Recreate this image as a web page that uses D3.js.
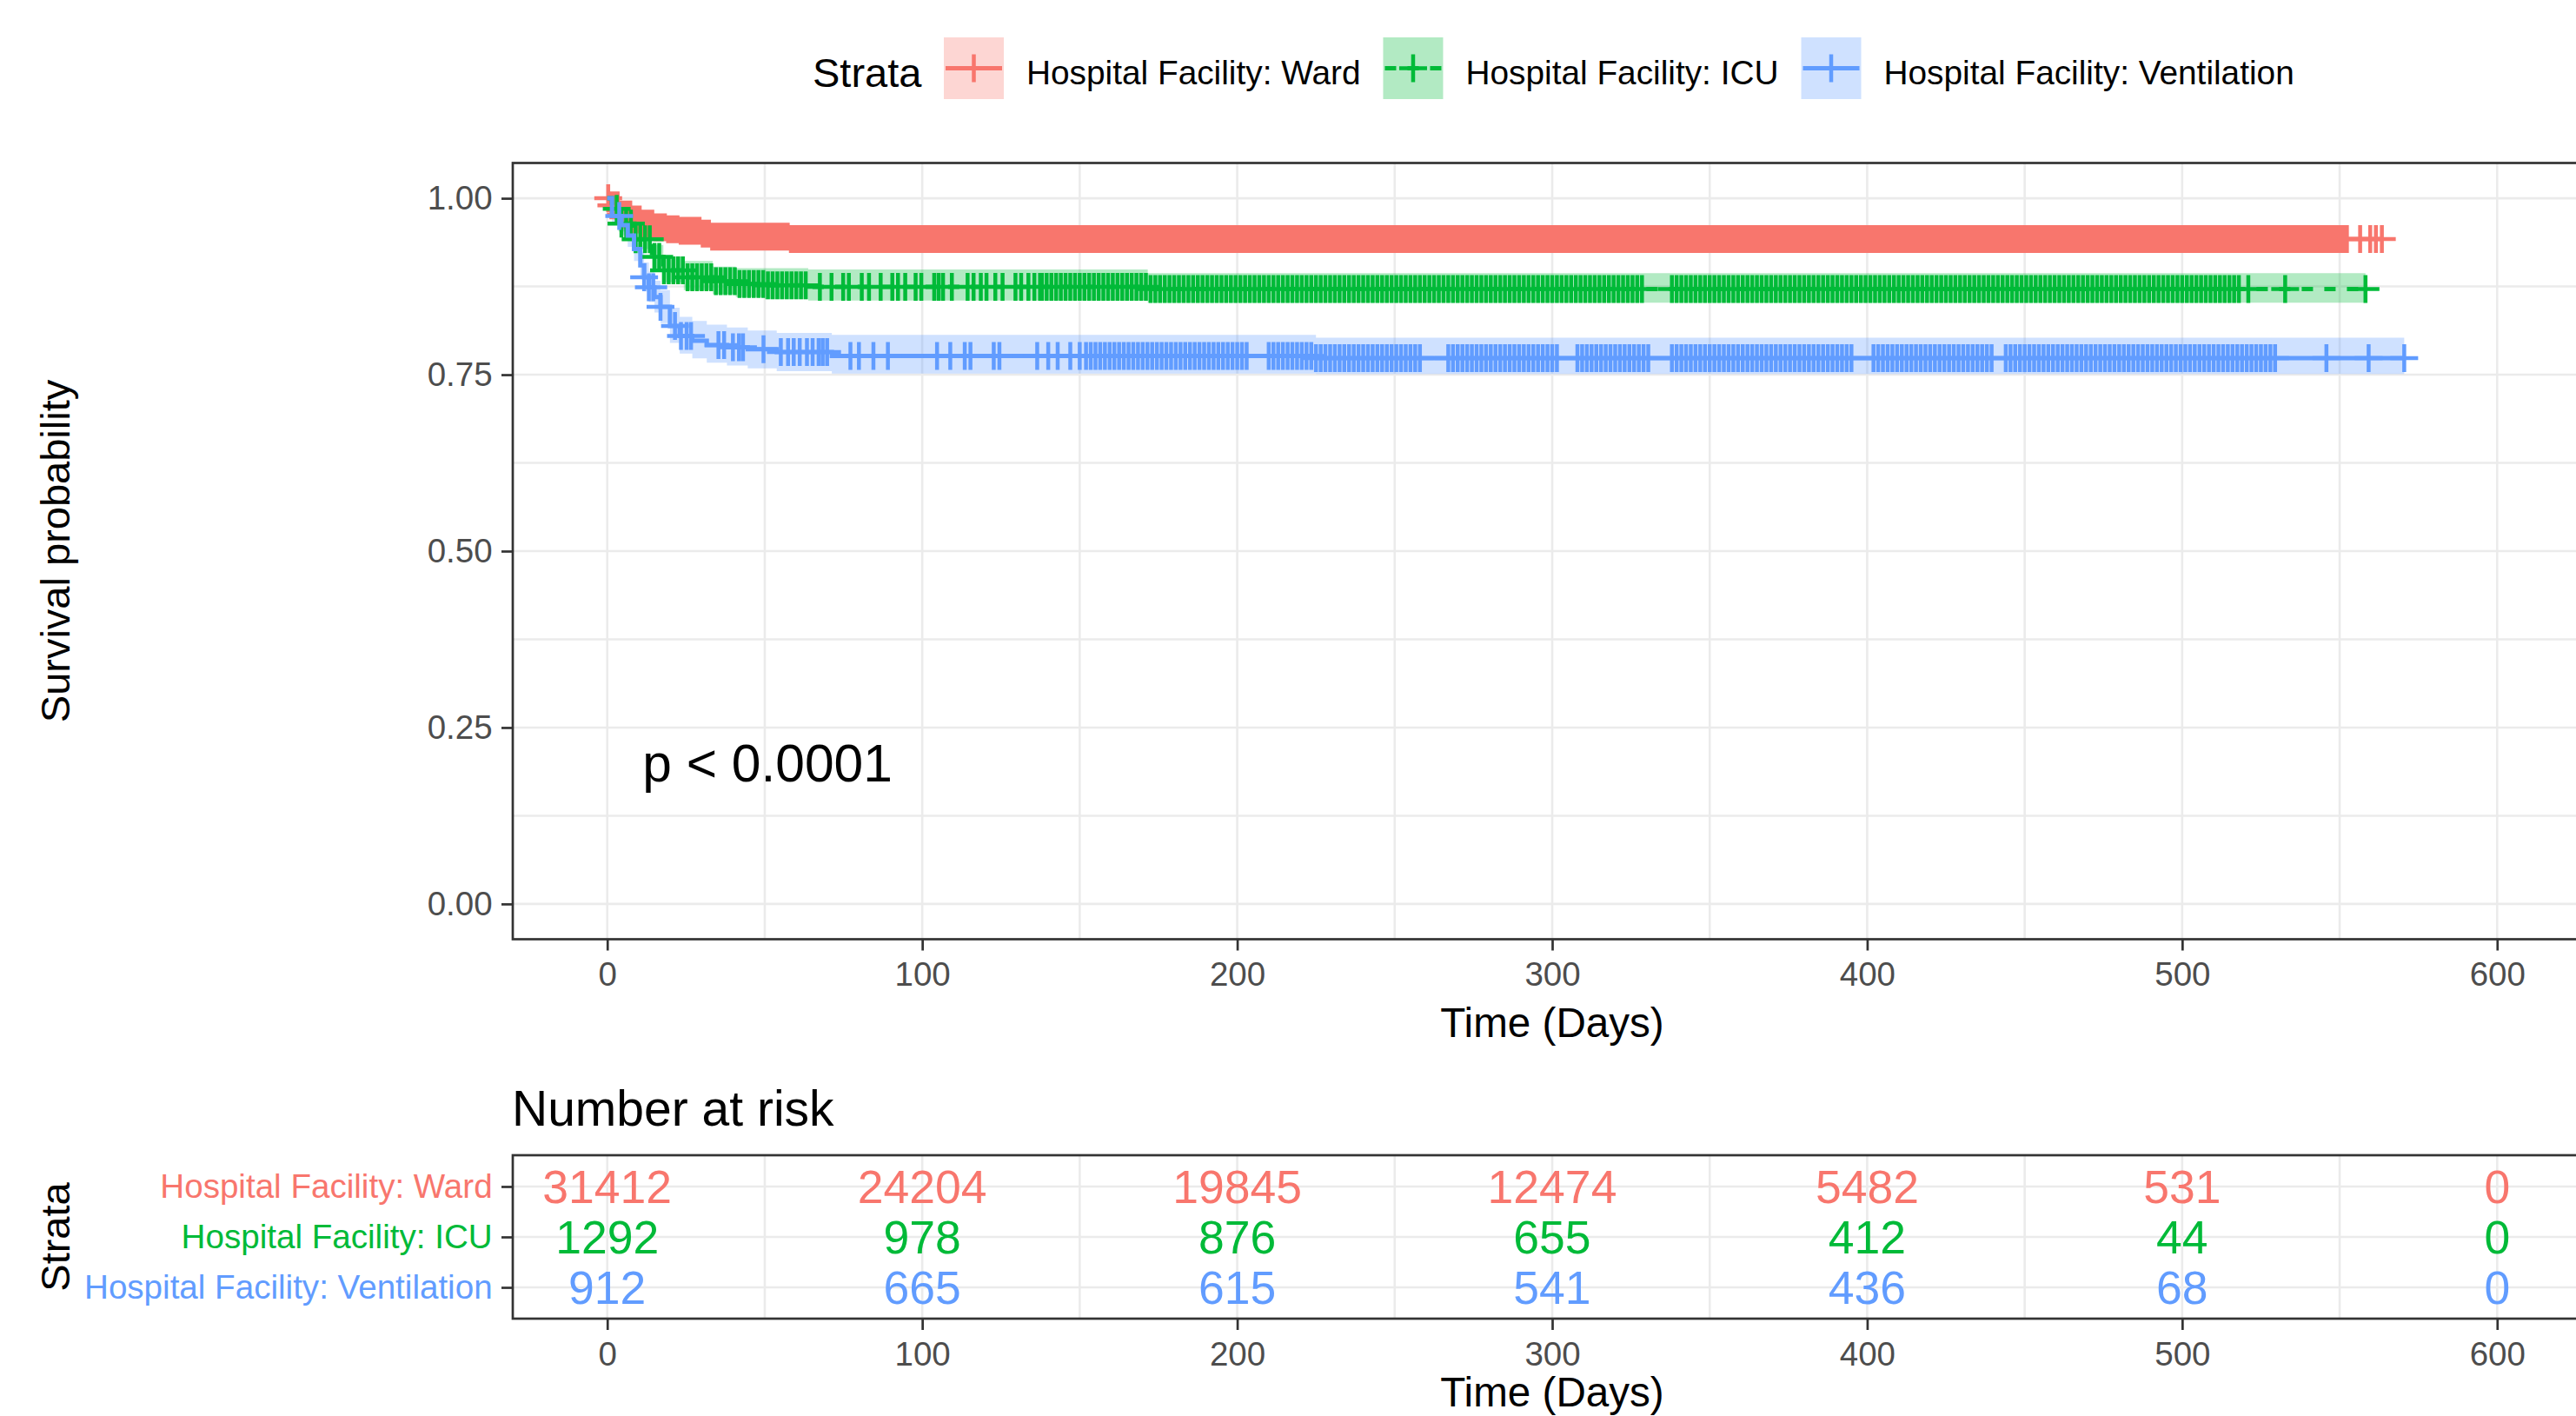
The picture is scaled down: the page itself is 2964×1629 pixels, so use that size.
<!DOCTYPE html>
<html>
<head>
<meta charset="utf-8">
<script src="https://cdn.jsdelivr.net/npm/d3@7"></script>
<style>
body { margin: 0; background: #fff; }
text { font-family: "Liberation Sans", Arial, sans-serif; }
</style>
</head>
<body>
<script>
const strata = ['Hospital Facility: Ward', 'Hospital Facility: ICU', 'Hospital Facility: Ventilation']
const colors = ['#F8766D', '#00BA38', '#619CFF']
const dashes = [null, '13 13', null]

// Kaplan-Meier steps
const wardTime = [0, 1, 3.6, 7.7, 11, 14.6, 18.5, 22.4, 29.8, 33, 58.3]
const wardSurv = [1, 0.99, 0.977, 0.97, 0.964, 0.959, 0.956, 0.954, 0.95, 0.9456, 0.9423]
const wardUpper = [1, 0.993, 0.98, 0.973, 0.967, 0.962, 0.959, 0.957, 0.953, 0.9486, 0.9453]
const wardLower = [1, 0.987, 0.974, 0.967, 0.961, 0.956, 0.953, 0.951, 0.947, 0.9426, 0.9393]
const wardEnd = 563.4

const icuTime = [0, 1.5, 3.6, 8.6, 14.2, 17.8, 24.3, 33.5, 40.8, 50, 63.8, 171.6]
const icuSurv = [1, 0.985, 0.964, 0.942, 0.917, 0.898, 0.888, 0.8826, 0.8785, 0.8765, 0.8745, 0.8715]
const icuUpper = [1, 0.992, 0.975, 0.956, 0.934, 0.9176, 0.911, 0.903, 0.901, 0.901, 0.899, 0.894]
const icuLower = [1, 0.978, 0.953, 0.928, 0.901, 0.881, 0.87, 0.864, 0.86, 0.857, 0.855, 0.852]
const icuEnd = 558.2

const ventTime = [0, 1.5, 4.5, 6.5, 8.5, 10.5, 11.7, 13.2, 15, 16.9, 19.9, 23, 27, 31.6, 38, 44.6, 53.8, 71.3, 225]
const ventSurv = [1, 0.975, 0.962, 0.947, 0.928, 0.905, 0.888, 0.874, 0.86, 0.846, 0.819, 0.805, 0.798, 0.792, 0.789, 0.786, 0.782, 0.7765, 0.7735]
const ventUpper = [1, 0.985, 0.975, 0.962, 0.945, 0.924, 0.909, 0.896, 0.883, 0.87, 0.845, 0.832, 0.826, 0.821, 0.817, 0.8126, 0.8093, 0.8065, 0.8024]
const ventLower = [1, 0.964, 0.948, 0.931, 0.911, 0.886, 0.868, 0.853, 0.838, 0.823, 0.795, 0.78, 0.773, 0.767, 0.763, 0.759, 0.755, 0.7517, 0.7509]
const ventEnd = 570.5

// censoring: spans that are solid with marks (start, end, spacing) plus single marks
const wardCensorRuns = [[0.3, 553, 1]]
const wardCensorSingles = [556.5, 559.7, 561.5, 563.4]
const icuCensorRuns = [[3, 8, 1.5], [9, 64, 1.5], [138, 329, 1.5], [338, 518, 1.5]]
const icuCensorSingles = [67.5, 71.2, 74.9, 76.7, 80.8, 83.1, 86.8, 90.5, 92.3, 94.6, 97.9, 99.7, 103.8, 105.2, 106.6,
  109.4, 114.4, 116.3, 118.6, 120.4, 123.2, 125.5, 129.6, 131.4, 133.7, 135.6, 137.4, 521, 532.7, 558.2]
const ventCensorRuns = [[152, 204, 1.5], [210, 258, 1.5], [267, 302, 1.5], [308, 331, 1.5], [338, 396, 1.5], [402, 440, 1.5], [444, 530, 1.5]]
const ventCensorSingles = [3.8, 11.7, 13.2, 14.6, 16.9, 21.5, 23.4, 25.2, 26.6, 35.3, 37.1, 39.9, 41.8, 43.1, 49.6, 55.1,
  57.4, 59.2, 61.1, 63.4, 65.2, 67.1, 68.4, 69.8, 77.2, 79.9, 84.5, 89.1, 104.7, 108.9, 113.5, 115.3, 122.7, 124.5,
  136.5, 140, 143, 147, 150, 545.8, 559.2, 570.5]

// number at risk
const riskTimes = [0, 100, 200, 300, 400, 500, 600]
const wardRisk = [31412, 24204, 19845, 12474, 5482, 531, 0]
const icuRisk = [1292, 978, 876, 655, 412, 44, 0]
const ventRisk = [912, 665, 615, 541, 436, 68, 0]

const xTicks = [0, 100, 200, 300, 400, 500, 600]
const xMinor = [50, 150, 250, 350, 450, 550]
const yTicks = [0, 0.25, 0.5, 0.75, 1]
const yMinor = [0.125, 0.375, 0.625, 0.875]

const curves = [
  { time: wardTime, surv: wardSurv, upper: wardUpper, lower: wardLower, end: wardEnd, runs: wardCensorRuns, singles: wardCensorSingles, risk: wardRisk },
  { time: icuTime, surv: icuSurv, upper: icuUpper, lower: icuLower, end: icuEnd, runs: icuCensorRuns, singles: icuCensorSingles, risk: icuRisk },
  { time: ventTime, surv: ventSurv, upper: ventUpper, lower: ventLower, end: ventEnd, runs: ventCensorRuns, singles: ventCensorSingles, risk: ventRisk }
]

const width = 2964
const height = 1629
const pLeft = 590, pRight = 2982
const pTop = 187.5, pBottom = 1080.5
const riskTop = 1329, riskBottom = 1517
const grid = '#EBEBEB'
const dark = '#333333'
const tickText = '#4D4D4D'

const svg = d3.select('body').append('svg').attr('width', width).attr('height', height)

const xScale = d3.scaleLinear().domain([-30, 630]).range([pLeft, pRight])
const yScale = d3.scaleLinear().domain([-0.05, 1.05]).range([pBottom, pTop])
const rScale = d3.scalePoint().domain(strata).range([riskTop, riskBottom]).padding(0.62)

// ---- main panel grid
const gGrid = svg.append('g').attr('stroke', grid).attr('stroke-width', 2.6)
gGrid.selectAll('.vx').data(xMinor.concat(xTicks)).enter().append('line')
  .attr('x1', d => xScale(d)).attr('x2', d => xScale(d)).attr('y1', pTop).attr('y2', pBottom)
gGrid.selectAll('.hy').data(yMinor.concat(yTicks)).enter().append('line')
  .attr('x1', pLeft).attr('x2', pRight).attr('y1', d => yScale(d)).attr('y2', d => yScale(d))

const stepLine = d3.line().curve(d3.curveStepAfter).x(d => xScale(d[0])).y(d => yScale(d[1]))
const band = d3.area().curve(d3.curveStepAfter).x(d => xScale(d[0])).y0(d => yScale(d[1])).y1(d => yScale(d[2]))

const survAt = (c, t) => c.surv[Math.max(0, d3.bisectRight(c.time, t) - 1)]

// ribbons
curves.forEach((c, i) => {
  const pts = c.time.map((t, j) => [t, c.lower[j], c.upper[j]])
  pts.push([c.end, c.lower[c.lower.length - 1], c.upper[c.upper.length - 1]])
  svg.append('path').attr('d', band(pts)).attr('fill', colors[i]).attr('fill-opacity', 0.3)
})

// lines and censor marks
curves.forEach((c, i) => {
  const pts = c.time.map((t, j) => [t, c.surv[j]])
  pts.push([c.end, c.surv[c.surv.length - 1]])
  svg.append('path').attr('d', stepLine(pts)).attr('fill', 'none')
    .attr('stroke', colors[i]).attr('stroke-width', 5).attr('stroke-dasharray', dashes[i])

  let marks = c.singles.slice()
  c.runs.forEach(r => { marks = marks.concat(d3.range(r[0], r[1] + 0.001, r[2])) })
  const s = 16
  const d = marks.map(t => {
    const px = xScale(t), py = yScale(survAt(c, t))
    return `M${px - s},${py}H${px + s}M${px},${py - s}V${py + s}`
  }).join('')
  svg.append('path').attr('d', d).attr('fill', 'none').attr('stroke', colors[i]).attr('stroke-width', 4.5)
})

svg.append('text').attr('x', xScale(12) - 3).attr('y', yScale(0.2)).attr('dy', '0.36em')
  .attr('font-size', 60.5).attr('fill', '#000').text('p < 0.0001')

svg.append('rect').attr('x', pLeft).attr('y', pTop).attr('width', pRight - pLeft).attr('height', pBottom - pTop)
  .attr('fill', 'none').attr('stroke', dark).attr('stroke-width', 2.7)

// axes
const styleAxis = (g) => {
  g.select('.domain').remove()
  g.selectAll('.tick line').attr('stroke', dark).attr('stroke-width', 2.7)
  g.selectAll('.tick text').attr('fill', tickText).attr('font-size', 38.5).attr('font-family', '"Liberation Sans", Arial, sans-serif')
}
svg.append('g').attr('transform', `translate(0,${pBottom})`)
  .call(d3.axisBottom(xScale).tickValues(xTicks).tickSize(13).tickPadding(13.5).tickFormat(d3.format('d')))
  .call(styleAxis)
svg.append('g').attr('transform', `translate(${pLeft},0)`)
  .call(d3.axisLeft(yScale).tickValues(yTicks).tickSize(13).tickPadding(10.4).tickFormat(d3.format('.2f')))
  .call(styleAxis)

svg.append('text').attr('x', (pLeft + pRight) / 2).attr('y', 1193).attr('text-anchor', 'middle')
  .attr('font-size', 47.6).text('Time (Days)')
svg.append('text').attr('transform', `translate(79.5,${(pTop + pBottom) / 2}) rotate(-90)`).attr('text-anchor', 'middle')
  .attr('font-size', 47).text('Survival probability')

// ---- legend
const legend = svg.append('g')
legend.append('text').attr('x', 935).attr('y', 100).attr('font-size', 47).text('Strata')
let lx = 1086
strata.forEach((s, i) => {
  const g = legend.append('g').attr('transform', `translate(${lx},43)`)
  g.append('rect').attr('width', 69).attr('height', 71).attr('fill', colors[i]).attr('fill-opacity', 0.3)
  g.append('line').attr('x1', 2).attr('x2', 67).attr('y1', 35.5).attr('y2', 35.5)
    .attr('stroke', colors[i]).attr('stroke-width', 5).attr('stroke-dasharray', dashes[i])
  g.append('path').attr('d', 'M18.5,35.5H50.5M34.5,19.5V51.5').attr('stroke', colors[i]).attr('stroke-width', 4.5)
  const t = legend.append('text').attr('x', lx + 95).attr('y', 97).attr('font-size', 38.8).text(s)
  lx = lx + 95 + t.node().getComputedTextLength() + 26
})

// ---- risk table
svg.append('text').attr('x', 589).attr('y', 1295).attr('font-size', 57).text('Number at risk')

const rGrid = svg.append('g').attr('stroke', grid).attr('stroke-width', 2.6)
rGrid.selectAll('.vx').data(xMinor.concat(xTicks)).enter().append('line')
  .attr('x1', d => xScale(d)).attr('x2', d => xScale(d)).attr('y1', riskTop).attr('y2', riskBottom)
rGrid.selectAll('.hy').data(strata).enter().append('line')
  .attr('x1', pLeft).attr('x2', pRight).attr('y1', d => rScale(d)).attr('y2', d => rScale(d))

curves.forEach((c, i) => {
  svg.append('g').selectAll('text').data(riskTimes).enter().append('text')
    .attr('x', d => xScale(d)).attr('y', rScale(strata[i])).attr('dy', '0.36em')
    .attr('text-anchor', 'middle').attr('font-size', 53.5).attr('fill', colors[i])
    .text((d, j) => c.risk[j])
})

svg.append('rect').attr('x', pLeft).attr('y', riskTop).attr('width', pRight - pLeft).attr('height', riskBottom - riskTop)
  .attr('fill', 'none').attr('stroke', dark).attr('stroke-width', 2.7)

svg.append('g').attr('transform', `translate(0,${riskBottom})`)
  .call(d3.axisBottom(xScale).tickValues(xTicks).tickSize(13).tickPadding(13.5).tickFormat(d3.format('d')))
  .call(styleAxis)
const ry = svg.append('g').attr('transform', `translate(${pLeft},0)`)
  .call(d3.axisLeft(rScale).tickSize(13).tickPadding(10.4))
  .call(styleAxis)
ry.selectAll('.tick text').attr('font-size', 38.6).attr('fill', (d, i) => colors[i])

svg.append('text').attr('x', (pLeft + pRight) / 2).attr('y', 1618).attr('text-anchor', 'middle')
  .attr('font-size', 47.6).text('Time (Days)')
svg.append('text').attr('transform', `translate(79.5,${(riskTop + riskBottom) / 2}) rotate(-90)`).attr('text-anchor', 'middle')
  .attr('font-size', 47).text('Strata')
</script>
</body>
</html>
